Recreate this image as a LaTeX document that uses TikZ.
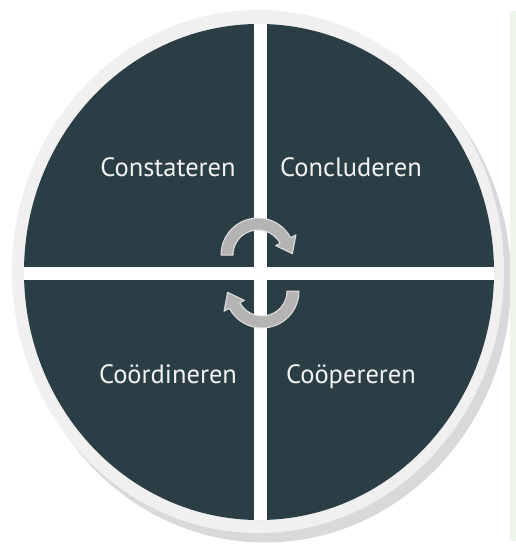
\documentclass[tikz,border=0pt]{standalone}
\usepackage{fontspec}
\setmainfont{PT Sans}
\definecolor{leisteen}{HTML}{2C3E45}
\definecolor{rand}{HTML}{F0F0F0}
\definecolor{schaduw}{HTML}{D9D9D9}
\definecolor{pijlgrijs}{HTML}{B4B4B4}
\definecolor{pijlrand}{HTML}{E2E2E2}
\definecolor{tekst}{HTML}{F2F2F2}
\definecolor{strook}{HTML}{EEF6E7}
\begin{document}
\begin{tikzpicture}[
    x=1pt, y=1pt,
    woord/.style={text=tekst, font=\fontsize{26.5}{30}\selectfont, anchor=base},
    pijl/.style={fill=pijlgrijs, draw=pijlrand, line width=1pt, line join=round}
]
\useasboundingbox (0,0) rectangle (516,-546);
% Schaduw en rand
\fill[schaduw] (265,-281) ellipse[x radius=246pt, y radius=261.5pt];
\fill[rand] (258,-271.5) ellipse[x radius=246pt, y radius=261.5pt];
\fill[strook, draw=strook!92!black!40] (510,-11) rectangle (517,-540);
% Kwadranten
\begin{scope}
\clip (259,-272) ellipse[x radius=235pt, y radius=248pt];
\fill[leisteen] (0,0) rectangle (516,-546);
\fill[white] (253.5,0) rectangle (266.5,-546);
\fill[white] (0,-266.5) rectangle (516,-279.5);
\end{scope}

% Pijlen
\begin{scope}[shift={(258,-255)}]
\draw[pijl] (180:37) arc[start angle=180, end angle=28, radius=37] -- (28:43)
    -- (34.4,1.3) -- (28:20) -- (28:25) arc[start angle=28, end angle=180, radius=25] -- cycle;
\end{scope}
\begin{scope}[rotate around={180:(260,-273)}, shift={(258,-255)}]
\draw[pijl] (180:37) arc[start angle=180, end angle=28, radius=37] -- (28:43)
    -- (34.4,1.3) -- (28:20) -- (28:25) arc[start angle=28, end angle=180, radius=25] -- cycle;
\end{scope}

% Teksten
\node[woord] (constateren) at (168,-176) {Constateren};
\node[woord] (concluderen) at (351,-176) {Concluderen};
\node[woord] (coordineren) at (168,-383) {Coördineren};
\node[woord] (cooppereren) at (351,-383) {Coöpereren};
\end{tikzpicture}
\end{document}
